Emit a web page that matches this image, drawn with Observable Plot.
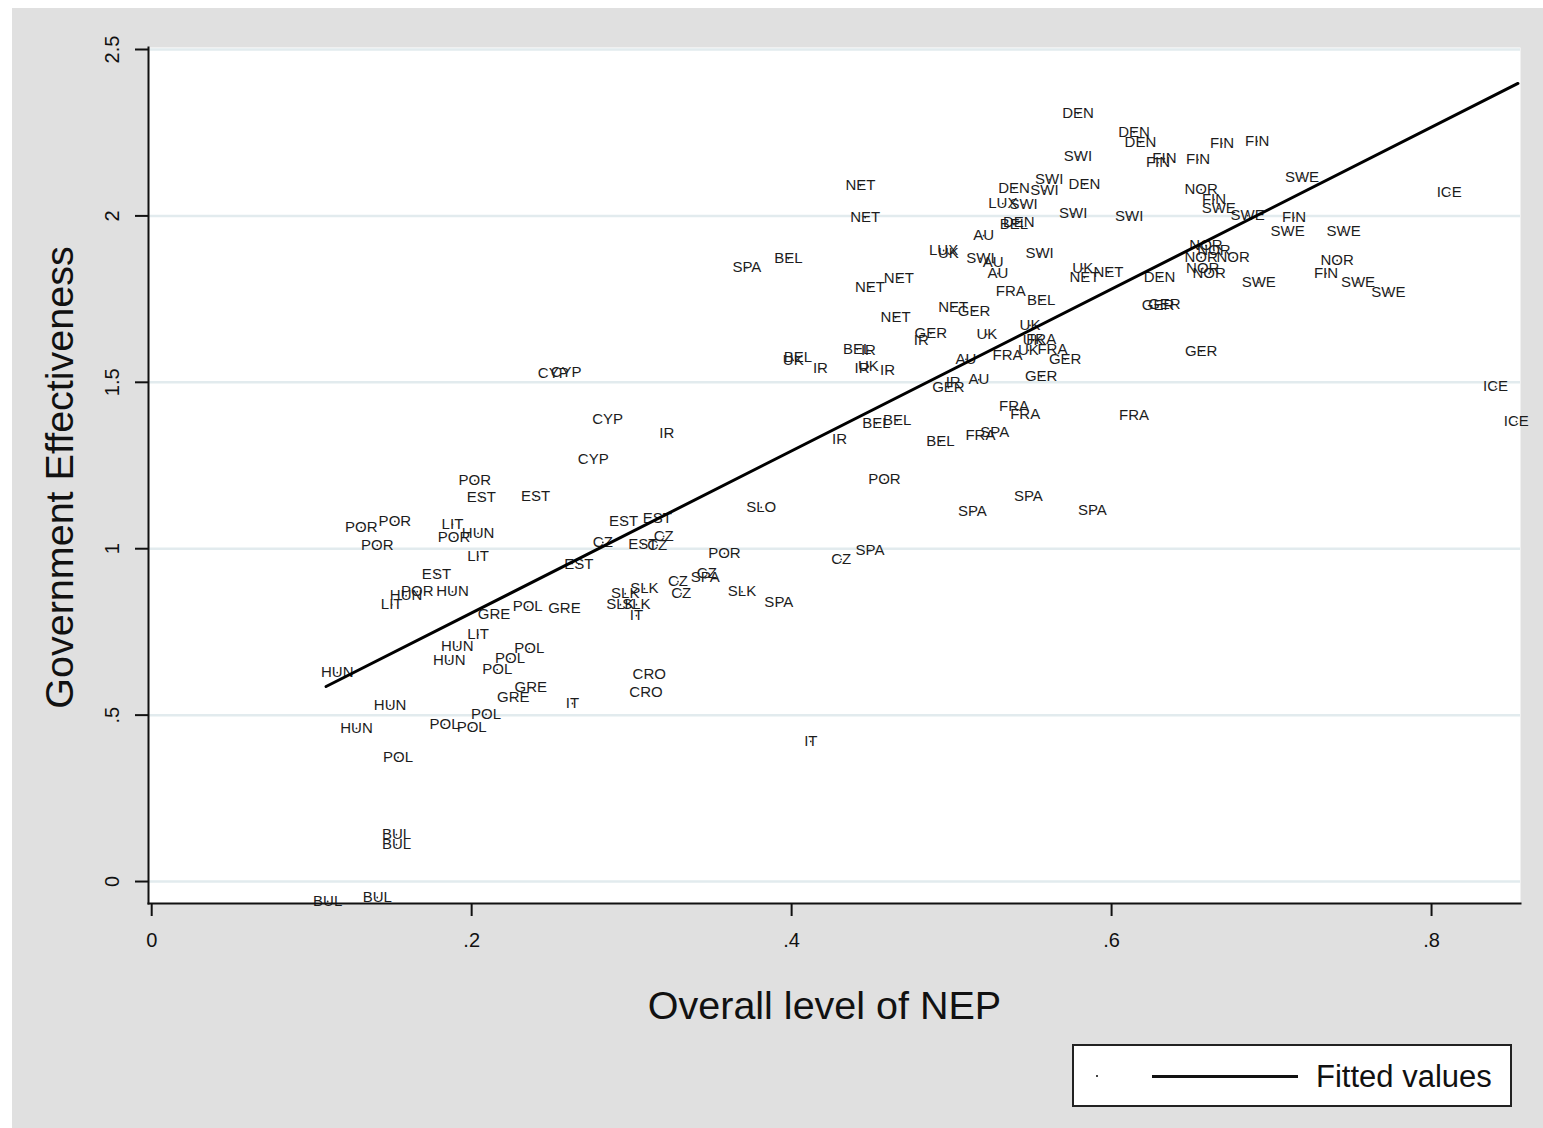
<!DOCTYPE html>
<html><head><meta charset="utf-8">
<script src="https://cdn.jsdelivr.net/npm/d3@7"></script>
<script src="https://cdn.jsdelivr.net/npm/@observablehq/plot@0.6"></script>
<style>
html,body{margin:0;padding:0;background:#fff;}
#panel{position:absolute;left:12px;top:8px;width:1531px;height:1120px;background:#e0e0e0;overflow:hidden;}
#chart{position:absolute;left:0;top:0;}
#legend{position:absolute;left:1060px;top:1036px;width:436px;height:59px;border:2px solid #222;background:#fff;font-family:"Liberation Sans",Arial,sans-serif;}
#legend .dot{position:absolute;left:22px;top:29px;width:2px;height:2px;background:#444;}
#legend .ln{position:absolute;left:78px;top:29px;width:146px;height:3px;background:#111;}
#legend .tx{position:absolute;left:242px;top:15px;font-size:31px;line-height:31px;color:#111;white-space:nowrap;}
</style></head><body>
<div id="panel"><div id="chart"></div>
<div id="legend"><div class="dot"></div><div class="ln"></div><div class="tx">Fitted values</div></div>
</div>
<script>
// country-year observations: label, overall level of NEP (x), government effectiveness (y)
const labels = ["DEN","DEN","DEN","FIN","FIN","SWI","FIN","FIN","FIN","NET",
"SWI","DEN","SWI","DEN","NOR","SWE","ICE","LUX","SWI","FIN",
"SWE","SWE","SWI","SWI","NET","FIN","SWE","SWE","BEL","DEN",
"AU","LUX","UK","SWI","SWI","AU","AU","SPA","BEL","NOR",
"NOR","NOR","NOR","NOR","NOR","UK","NET","NET","DEN","SWE",
"NOR","FIN","SWE","SWE","NET","NET","FRA","BEL","GER","GER",
"NET","GER","NET","GER","IR","UK","UK","UK","FRA","UK",
"FRA","GER","FRA","AU","GER","AU","IR","GER","GER","UK",
"BEL","IR","BEL","IR","IR","UK","IR","CYP","CYP","CYP",
"IR","CYP","BEL","BEL","IR","BEL","FRA","SPA","FRA","FRA",
"FRA","ICE","ICE","POR","SPA","SPA","SPA","SLO","SPA","CZ",
"POR","POR","EST","EST","EST","EST","CZ","EST","CZ","CZ",
"EST","POR","POR","POR","LIT","POR","HUN","LIT","EST","HUN",
"POR","LIT","HUN","GRE","POL","GRE","LIT","HUN","HUN","POL",
"POL","POL","HUN","GRE","GRE","IT","HUN","POL","POL","POL",
"HUN","POL","BUL","BUL","BUL","BUL","CRO","CRO","IT","SLK",
"SLK","SLK","SLK","IT","CZ","CZ","CZ","SPA","SLK","SPA"];
const nep = [0.579,0.614,0.618,0.669,0.691,0.579,0.629,0.633,0.654,0.443,
0.561,0.539,0.558,0.583,0.656,0.719,0.811,0.532,0.545,0.664,
0.667,0.685,0.576,0.611,0.446,0.714,0.710,0.745,0.539,0.542,
0.520,0.495,0.498,0.555,0.518,0.526,0.529,0.372,0.398,0.659,
0.664,0.656,0.676,0.657,0.661,0.582,0.583,0.598,0.630,0.692,
0.741,0.734,0.754,0.773,0.449,0.467,0.537,0.556,0.629,0.633,
0.501,0.514,0.465,0.487,0.481,0.522,0.549,0.551,0.556,0.548,
0.563,0.571,0.535,0.509,0.556,0.517,0.501,0.498,0.656,0.401,
0.404,0.418,0.441,0.448,0.444,0.448,0.460,0.251,0.259,0.285,
0.322,0.276,0.453,0.466,0.430,0.493,0.518,0.527,0.539,0.546,
0.614,0.840,0.853,0.458,0.513,0.548,0.588,0.381,0.449,0.431,
0.358,0.202,0.206,0.240,0.295,0.316,0.282,0.307,0.316,0.320,
0.267,0.131,0.152,0.141,0.188,0.189,0.204,0.204,0.178,0.159,
0.166,0.150,0.188,0.214,0.235,0.258,0.204,0.191,0.186,0.236,
0.224,0.216,0.116,0.237,0.226,0.263,0.149,0.209,0.183,0.200,
0.128,0.154,0.153,0.153,0.110,0.141,0.311,0.309,0.412,0.296,
0.308,0.293,0.303,0.303,0.329,0.331,0.347,0.346,0.369,0.392];
const gov = [2.308,2.251,2.221,2.218,2.224,2.178,2.160,2.172,2.169,2.091,
2.109,2.082,2.076,2.094,2.079,2.115,2.070,2.037,2.034,2.049,
2.022,2.001,2.007,1.998,1.995,1.995,1.953,1.953,1.974,1.980,
1.941,1.896,1.887,1.887,1.872,1.860,1.827,1.845,1.872,1.911,
1.896,1.875,1.875,1.842,1.827,1.842,1.815,1.830,1.815,1.800,
1.866,1.827,1.800,1.770,1.785,1.812,1.773,1.746,1.731,1.734,
1.725,1.713,1.695,1.647,1.626,1.644,1.671,1.626,1.629,1.596,
1.599,1.569,1.581,1.569,1.517,1.508,1.499,1.484,1.593,1.566,
1.575,1.541,1.599,1.596,1.541,1.547,1.535,1.526,1.529,1.388,
1.346,1.268,1.376,1.385,1.328,1.322,1.340,1.349,1.427,1.403,
1.400,1.487,1.382,1.208,1.112,1.157,1.115,1.124,0.995,0.968,
0.986,1.205,1.154,1.157,1.082,1.091,1.019,1.013,1.010,1.037,
0.953,1.064,1.082,1.010,1.073,1.034,1.046,0.977,0.922,0.859,
0.871,0.832,0.871,0.802,0.826,0.820,0.742,0.706,0.664,0.700,
0.670,0.637,0.628,0.583,0.553,0.535,0.529,0.502,0.472,0.463,
0.460,0.373,0.141,0.111,-0.060,-0.048,0.622,0.568,0.421,0.865,
0.880,0.832,0.832,0.799,0.901,0.865,0.925,0.913,0.871,0.838];

// fitted values line (read at the two ends)
const fitX = [0.109, 0.854];
const fitY = [0.586, 2.398];

// axes
const xTicks = [0, 0.2, 0.4, 0.6, 0.8];
const xTickLabels = ["0", ".2", ".4", ".6", ".8"];
const yTicks = [0, 0.5, 1, 1.5, 2, 2.5];
const yTickLabels = ["0", ".5", "1", "1.5", "2", "2.5"];
const xDomain = [-0.002, 0.8556];
const yDomain = [-0.066, 2.506];
const xTitle = "Overall level of NEP";
const yTitle = "Government Effectiveness";

const data = labels.map((t, i) => ({t, x: nep[i], y: gov[i]}));
const fit = fitX.map((x, i) => ({x, y: fitY[i]}));
const xFmt = new Map(xTicks.map((d, i) => [d, xTickLabels[i]]));
const yFmt = new Map(yTicks.map((d, i) => [d, yTickLabels[i]]));
const font = "'Liberation Sans', Arial, sans-serif";

const chart = Plot.plot({
  width: 1531, height: 1030,
  marginLeft: 136, marginTop: 39, marginRight: 23, marginBottom: 135,
  style: {background: "transparent", fontFamily: font, color: "#111", overflow: "visible"},
  x: {domain: xDomain},
  y: {domain: yDomain},
  marks: [
    Plot.frame({fill: "white", stroke: "none"}),
    Plot.gridY(yTicks, {stroke: "#e2ebee", strokeOpacity: 1, strokeWidth: 2.5}),
    Plot.text(data, {x: "x", y: "y", text: "t", fontSize: 15, fill: "#1c1c1c"}),
    Plot.dot(data, {x: "x", y: "y", r: 0.9, fill: "#333", stroke: "none"}),
    Plot.line(fit, {x: "x", y: "y", stroke: "black", strokeWidth: 3}),
    Plot.axisY(yTicks, {tickFormat: d => yFmt.get(d), tickRotate: -90, tickSize: 13, tickPadding: 17, fontSize: 20, label: null, strokeWidth: 2, stroke: "#111"}),
    Plot.axisX(xTicks, {tickFormat: d => xFmt.get(d), tickSize: 13, tickPadding: 16, fontSize: 20, label: null, strokeWidth: 2, stroke: "#111"}),
    Plot.frame({anchor: "left", stroke: "#111", strokeWidth: 2}),
    Plot.frame({anchor: "bottom", stroke: "#111", strokeWidth: 2}),
    Plot.text([xTitle], {text: d => d, frameAnchor: "bottom", textAnchor: "middle", lineAnchor: "middle", dx: -10, dy: 103, fontSize: 39.5, fill: "#111"}),
    Plot.text([yTitle], {text: d => d, frameAnchor: "left", textAnchor: "middle", lineAnchor: "middle", dx: -88, dy: 2, rotate: -90, fontSize: 39.5, fill: "#111"})
  ]
});
document.getElementById("chart").appendChild(chart);
</script>
</body></html>
